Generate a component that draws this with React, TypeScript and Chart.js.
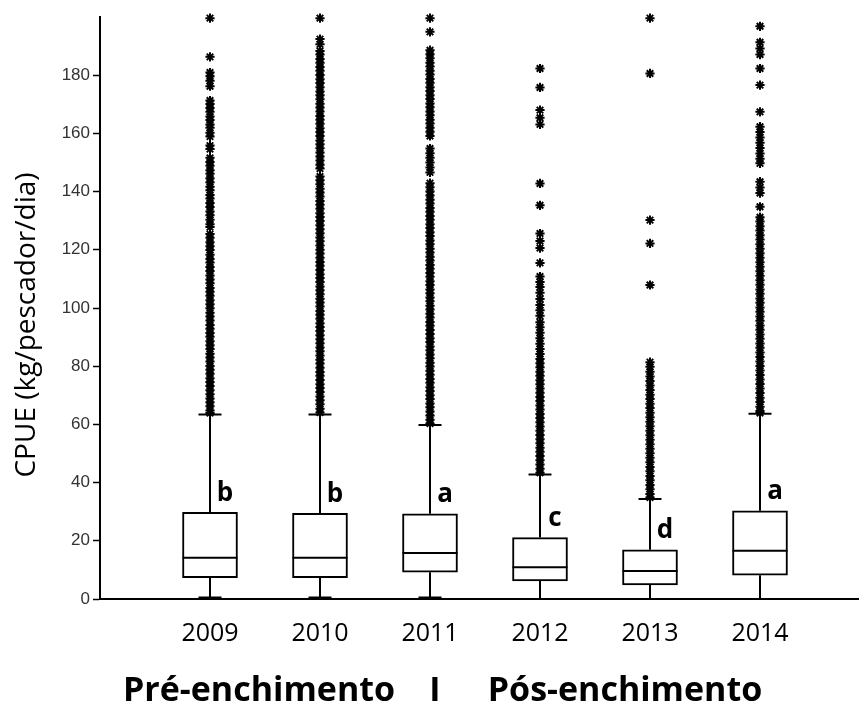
import React, { useEffect, useRef } from 'react';
import { Chart, registerables } from 'chart.js';

Chart.register(...registerables);

const YEARS = ['2009', '2010', '2011', '2012', '2013', '2014'];
const Q1 = [7.3, 7.3, 9.2, 6.2, 4.8, 8.2];
const MEDIAN = [14.2, 14.2, 15.8, 10.9, 9.6, 16.6];
const Q3 = [29.8, 29.4, 29.3, 21.1, 16.9, 30.3];
const WHISKER_HI = [63.4, 63.4, 59.8, 42.8, 34.4, 63.7];
const WHISKER_LO = [0.5, 0.5, 0.5, 0, 0, 0];
const LETTERS = ['b', 'b', 'a', 'c', 'd', 'a'];
const Y_TICKS = [0, 20, 40, 60, 80, 100, 120, 140, 160, 180];
const Y_MAX = 200;
const X_MAX = 6.9;
const GROUP_LEFT = 'Pré-enchimento';
const GROUP_SEP = 'I';
const GROUP_RIGHT = 'Pós-enchimento';
const Y_TITLE = 'CPUE (kg/pescador/dia)';

const OUT_2009 = [199.6, 186.3, 180.9, 179.6, 178.1, 176.2,
  171.3, 170.1, 168.7, 167.4, 165.8, 164.6, 163.1, 161.9, 160.2, 158.9, 155.8, 154.6, 151.6, 150.2,
  148.9, 147.3, 146.1, 144.6, 143.2, 141.7, 140.5, 138.8, 137.6, 136.1, 134.7, 133.2, 131.9, 130.3,
  128.8, 127.8, 125.4, 124.1, 122.6, 121.2, 119.9, 118.3, 116.8, 115.6, 114.1, 112.7, 111.2, 109.8,
  108.5, 106.9, 105.6, 104.2, 102.7, 101.3, 99.9, 98.4, 97.1, 95.7, 94.2, 92.9, 91.4, 90.1, 88.6,
  87.2, 85.9, 84.3, 83.0, 81.6, 80.1, 78.8, 77.4, 75.9, 74.6, 73.2, 71.7, 70.4, 68.9, 67.6, 66.2,
  64.8, 63.9];
const OUT_2010 = [199.6, 192.4, 190.6, 188.3, 187.1, 185.6, 184.3, 182.8, 181.5, 180.1, 178.6, 177.3,
  175.9, 174.4, 173.1, 171.7, 170.2, 168.9, 167.5, 166.0, 164.7, 163.3, 161.8, 160.5, 159.1, 157.6,
  156.3, 154.9, 153.4, 152.1, 150.7, 149.2, 147.9, 145.2, 143.9, 142.5, 141.0, 139.7, 138.3, 136.8,
  135.5, 134.1, 132.6, 131.3, 129.9, 128.4, 127.1, 125.7, 124.2, 122.9, 121.5, 120.0, 118.7, 117.3,
  115.8, 114.5, 113.1, 111.6, 110.3, 108.9, 107.4, 106.1, 104.7, 103.2, 101.9, 100.5, 99.0, 97.7,
  96.3, 94.8, 93.5, 92.1, 90.6, 89.3, 87.9, 86.4, 85.1, 83.7, 82.2, 80.9, 79.5, 78.0, 76.7, 75.3,
  73.8, 72.5, 71.1, 69.6, 68.3, 66.9, 65.4, 64.1];
const OUT_2011 = [199.6, 194.9, 188.6, 187.2, 185.8, 184.3, 183.0, 181.5, 180.2, 178.7, 177.4, 175.9,
  174.6, 173.1, 171.8, 170.3, 169.0, 167.5, 166.2, 164.7, 163.4, 161.9, 160.6, 159.1, 154.8, 153.2,
  151.6, 150.0, 148.3, 146.6, 142.9, 141.5, 140.0, 138.7, 137.2, 135.9, 134.4, 133.1, 131.6, 130.3,
  128.8, 127.5, 126.0, 124.7, 123.2, 121.9, 120.4, 119.1, 117.6, 116.3, 114.8, 113.5, 112.0, 110.7,
  109.2, 107.9, 106.4, 105.1, 103.6, 102.3, 100.8, 99.5, 98.0, 96.7, 95.2, 93.9, 92.4, 91.1, 89.6,
  88.3, 86.8, 85.5, 84.0, 82.7, 81.2, 79.9, 78.4, 77.1, 75.6, 74.3, 72.8, 71.5, 70.0, 68.7, 67.2,
  65.9, 64.4, 63.1, 61.6, 60.3];
const OUT_2012 = [182.3, 175.8, 168.0, 165.4, 163.1, 142.8, 135.3, 125.6, 123.0, 120.6, 115.5, 110.8,
  108.9, 107.2, 105.2, 103.1, 101.0, 99.2, 97.3, 95.1, 93.4, 91.5, 89.6, 87.7, 85.9, 84.2, 82.5,
  81.0, 79.6, 78.1, 76.7, 75.2, 73.8, 72.3, 70.9, 69.4, 68.0, 66.5, 65.1, 63.6, 62.2, 60.7, 59.3,
  57.8, 56.4, 54.9, 53.5, 52.0, 50.6, 49.1, 47.7, 46.2, 44.8, 43.4];
const OUT_2013 = [199.6, 180.6, 130.2, 122.2, 107.9, 81.4, 79.8, 78.1, 76.5, 74.9, 73.4, 71.8, 70.2,
  68.7, 67.1, 65.6, 64.0, 62.5, 60.9, 59.4, 57.8, 56.3, 54.7, 53.2, 51.6, 50.1, 48.5, 47.0, 45.4,
  43.9, 42.3, 40.8, 39.2, 37.7, 36.1, 34.9];
const OUT_2014 = [196.8, 191.3, 189.2, 187.1, 182.3, 176.6, 167.4, 162.3, 160.5, 158.6, 156.8, 155.0,
  153.1, 151.3, 149.7, 143.4, 141.4, 139.5, 134.8, 131.2, 129.7, 128.1, 126.6, 125.0, 123.5, 121.9,
  120.4, 118.8, 117.3, 115.7, 114.2, 112.6, 111.1, 109.5, 108.0, 106.4, 104.9, 103.3, 101.8, 100.2,
  98.7, 97.1, 95.6, 94.0, 92.5, 90.9, 89.4, 87.8, 86.3, 84.7, 83.2, 81.6, 80.1, 78.5, 77.0, 75.4,
  73.9, 72.3, 70.8, 69.2, 67.7, 66.1, 64.6, 63.9];
const OUTLIERS = [OUT_2009, OUT_2010, OUT_2011, OUT_2012, OUT_2013, OUT_2014];

const SANS = "'Open Sans', sans-serif";

export default function App() {
  const ref = useRef<HTMLCanvasElement>(null);

  useEffect(() => {
    if (!ref.current) return;
    const BOX_W = 55;
    const CAP_W = 23;

    const boxExtras = {
      id: 'boxExtras',
      beforeDatasetsDraw(chart: any) {
        const { ctx, scales } = chart;
        const x = scales.x, y = scales.y;
        ctx.save();
        ctx.strokeStyle = '#000';
        ctx.lineWidth = 2;
        YEARS.forEach((_, i) => {
          const px = Math.round(x.getPixelForValue(i + 1));
          const yq3 = y.getPixelForValue(Q3[i]);
          const yq1 = y.getPixelForValue(Q1[i]);
          const yhi = y.getPixelForValue(WHISKER_HI[i]);
          const ylo = y.getPixelForValue(WHISKER_LO[i]);
          ctx.beginPath();
          ctx.moveTo(px, yq3); ctx.lineTo(px, yhi);
          ctx.moveTo(px - CAP_W / 2, yhi); ctx.lineTo(px + CAP_W / 2, yhi);
          ctx.moveTo(px, yq1); ctx.lineTo(px, ylo);
          ctx.moveTo(px - CAP_W / 2, ylo); ctx.lineTo(px + CAP_W / 2, ylo);
          ctx.stroke();
        });
        ctx.restore();
      },
      afterDatasetsDraw(chart: any) {
        const { ctx, scales, chartArea } = chart;
        const x = scales.x, y = scales.y;
        ctx.save();
        ctx.strokeStyle = '#000';
        ctx.lineWidth = 2;
        YEARS.forEach((_, i) => {
          const px = Math.round(x.getPixelForValue(i + 1));
          const ym = y.getPixelForValue(MEDIAN[i]);
          ctx.beginPath();
          ctx.moveTo(px - BOX_W / 2, ym); ctx.lineTo(px + BOX_W / 2, ym);
          ctx.stroke();
          ctx.fillStyle = '#000';
          ctx.font = `bold 26px ${SANS}`;
          ctx.textAlign = 'center';
          ctx.textBaseline = 'alphabetic';
          ctx.fillText(LETTERS[i], px + 15, y.getPixelForValue(Q3[i] + 4));
        });
        // group labels under the axis
        ctx.font = `bold 34px ${SANS}`;
        ctx.fillStyle = '#000';
        ctx.textBaseline = 'alphabetic';
        ctx.textAlign = 'center';
        ctx.fillText(GROUP_LEFT, 259, 701);
        ctx.fillText(GROUP_SEP, 435, 701);
        ctx.fillText(GROUP_RIGHT, 625, 701);
        // y-axis title
        ctx.save();
        ctx.translate(35, chartArea.top + (chartArea.bottom - chartArea.top) / 2 + 17);
        ctx.rotate(-Math.PI / 2);
        ctx.font = `28px ${SANS}`;
        ctx.textAlign = 'center';
        ctx.textBaseline = 'alphabetic';
        ctx.fillText(Y_TITLE, 0, 0);
        ctx.restore();
        ctx.restore();
      },
    };

    const chart = new Chart(ref.current, {
      type: 'bar',
      data: {
        datasets: [
          {
            type: 'bar',
            data: YEARS.map((_, i) => ({ x: i + 1, y: [Q1[i], Q3[i]] })),
            backgroundColor: '#ffffff',
            borderColor: '#000000',
            borderWidth: 2,
            borderSkipped: false,
            barThickness: BOX_W,
            order: 2,
          } as any,
          {
            type: 'scatter',
            data: OUTLIERS.flatMap((arr, i) => arr.map((v) => ({ x: i + 1, y: v }))),
            pointStyle: 'star',
            pointRadius: 4.6,
            pointBorderColor: '#000000',
            pointBackgroundColor: '#000000',
            pointBorderWidth: 2,
            showLine: false,
            clip: false,
            order: 1,
          } as any,
        ],
      },
      plugins: [boxExtras],
      options: {
        responsive: false,
        animation: false,
        events: [],
        layout: { autoPadding: false, padding: { top: 17, right: 0, bottom: 0, left: 0 } },
        plugins: { legend: { display: false }, tooltip: { enabled: false } },
        scales: {
          x: {
            type: 'linear',
            offset: false,
            min: 0,
            max: X_MAX,
            afterFit: (s: any) => { s.height = 107; s.paddingRight = 0; s.paddingLeft = 0; },
            afterBuildTicks: (s: any) => { s.ticks = YEARS.map((_, i) => ({ value: i + 1 })); },
            grid: { display: false, drawTicks: false, offset: false },
            border: { display: true, color: '#000', width: 2 },
            ticks: {
              autoSkip: false,
              maxRotation: 0,
              padding: 20,
              color: '#000',
              font: { family: SANS, size: 25 },
              callback: (v: any) => {
                const n = Number(v);
                return Number.isInteger(n) && n >= 1 && n <= YEARS.length ? YEARS[n - 1] : '';
              },
            },
          },
          y: {
            type: 'linear',
            min: 0,
            max: Y_MAX,
            afterFit: (s: any) => { s.width = 100; },
            grid: {
              drawOnChartArea: false,
              drawTicks: true,
              tickLength: 7,
              tickWidth: 1.5,
              tickColor: (c: any) => (c.tick && Y_TICKS.includes(c.tick.value) ? '#000' : 'rgba(0,0,0,0)'),
            },
            border: { display: true, color: '#000', width: 2 },
            ticks: {
              stepSize: 20,
              padding: 3,
              color: '#333',
              font: { family: "'Liberation Sans', Arial, sans-serif", size: 17 },
              callback: (v: any) => (Y_TICKS.includes(Number(v)) ? String(v) : ''),
            },
          },
        },
      } as any,
    });
    return () => chart.destroy();
  }, []);

  return (
    <div style={{ position: 'fixed', left: 0, top: 0, width: 859, height: 706, background: '#fff' }}>
      <canvas ref={ref} width={859} height={706} style={{ display: 'block' }} />
    </div>
  );
}
